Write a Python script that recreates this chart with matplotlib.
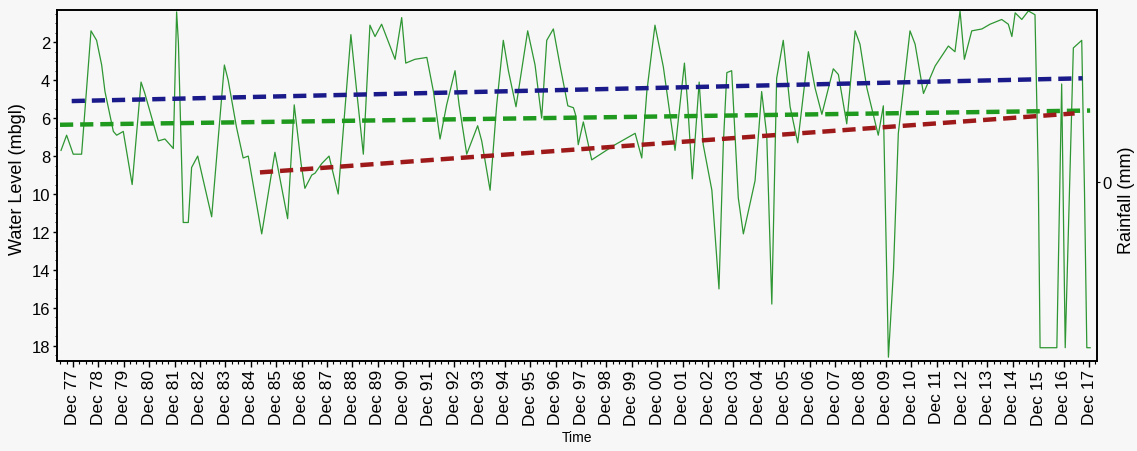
import matplotlib
matplotlib.use("Agg")
import matplotlib.pyplot as plt
from matplotlib.ticker import FixedLocator, MultipleLocator

plt.rcParams['font.family'] = ['Liberation Sans', 'DejaVu Sans']
plt.rcParams['lines.scale_dashes'] = False

# Groundwater level record (decimal year, metres below ground level)
years = [
    1977.45, 1977.67, 1977.93, 1978.26, 1978.63, 1978.85, 1979.05, 1979.18,
    1979.51, 1979.64, 1979.90, 1980.25, 1980.60, 1980.75, 1981.28, 1981.54,
    1981.87, 1982.00, 1982.07, 1982.26, 1982.46, 1982.59, 1982.83, 1983.38,
    1983.88, 1984.03, 1984.36, 1984.62, 1984.82, 1985.35, 1985.87, 1986.37,
    1986.63, 1986.90, 1987.05, 1987.32, 1987.45, 1987.71, 1988.00, 1988.36,
    1988.86, 1989.09, 1989.35, 1989.61, 1989.81, 1990.07, 1990.60, 1990.86,
    1991.02, 1991.38, 1991.85, 1992.11, 1992.37, 1992.63, 1992.96, 1993.12,
    1993.42, 1993.85, 1994.01, 1994.34, 1994.60, 1994.86, 1995.06, 1995.36,
    1995.82, 1996.11, 1996.37, 1996.57, 1996.83, 1997.09, 1997.40, 1997.62,
    1997.70, 1997.81, 1998.01, 1998.34, 1999.26, 2000.05, 2000.31, 2000.51,
    2000.83, 2001.16, 2001.62, 2001.99, 2002.12, 2002.30, 2002.57, 2002.73,
    2003.07, 2003.35, 2003.52, 2003.66, 2003.85, 2004.11, 2004.31, 2004.77,
    2005.03, 2005.23, 2005.43, 2005.62, 2005.88, 2006.15, 2006.45, 2006.87,
    2007.13, 2007.40, 2007.85, 2008.05, 2008.38, 2008.71, 2008.90, 2009.17,
    2009.62, 2009.82, 2009.92, 2010.02, 2010.22, 2010.41, 2010.87, 2011.07,
    2011.40, 2011.86, 2012.38, 2012.64, 2012.84, 2013.01, 2013.30, 2013.70,
    2014.02, 2014.48, 2014.74, 2014.88, 2015.01, 2015.27, 2015.53, 2015.79,
    2015.92, 2015.99, 2016.65, 2016.84, 2016.98, 2017.30, 2017.63, 2017.74,
    2017.83, 2017.96,
]
water_level = [
    7.7, 6.9, 7.9, 7.9, 1.4, 1.9, 3.2, 4.6,
    6.7, 6.9, 6.7, 9.5, 4.1, 4.7, 7.2, 7.1,
    7.6, 0.4, 2.0, 11.5, 11.5, 8.6, 8.0, 11.2,
    3.2, 4.0, 6.5, 8.1, 8.0, 12.1, 7.8, 11.3,
    5.3, 8.4, 9.7, 9.0, 8.9, 8.4, 8.0, 10.0,
    1.6, 4.6, 7.9, 1.1, 1.7, 1.05, 2.9, 0.7,
    3.1, 2.9, 2.8, 4.6, 7.1, 5.3, 3.5, 5.3,
    7.9, 6.4, 7.2, 9.8, 5.3, 1.9, 3.5, 5.4,
    1.4, 3.2, 6.0, 1.9, 1.3, 3.2, 5.35, 5.45,
    5.8, 7.4, 6.2, 8.2, 7.4, 6.8, 8.1, 4.6,
    1.1, 3.3, 7.7, 3.1, 5.3, 9.2, 4.1, 7.4,
    9.8, 15.0, 7.4, 3.6, 3.5, 10.2, 12.1, 9.3,
    4.6, 6.9, 15.8, 3.9, 1.9, 5.4, 7.3, 2.5,
    4.4, 5.8, 3.4, 3.7, 6.3, 1.4, 2.1, 4.4,
    6.9, 5.35, 11.9, 18.6, 14.0, 6.8, 1.4, 2.1,
    4.7, 3.25, 2.2, 2.5, 0.35, 2.9, 1.4, 1.3,
    1.05, 0.8, 1.05, 1.7, 0.45, 0.8, 0.35, 0.55,
    9.1, 18.1, 18.1, 4.2, 18.1, 2.3, 1.9, 10.0,
    18.1, 18.1,
]

# Linear trend lines (start / end)
trend_long_years = [1977.87, 2017.66]
trend_long_level = [5.1, 3.9]
trend_all_years = [1977.41, 2017.96]
trend_all_level = [6.35, 5.6]
trend_recent_years = [1985.28, 2017.35]
trend_recent_level = [8.86, 5.75]

tick_years = list(range(1977, 2018))
tick_labels = ["Dec %02d" % (y % 100) for y in tick_years]
level_ticks = [2, 4, 6, 8, 10, 12, 14, 16, 18]

bg = '#f7f7f7'
fig = plt.figure(figsize=(11.37, 4.52), dpi=100, facecolor=bg)
ax = fig.add_axes([0.0501, 0.1991, 0.9147, 0.7766], facecolor=bg)

ax.plot(years, water_level, color='#2e9632', lw=0.9, zorder=3)

dash = (9.5, 5.0)
ax.plot(trend_long_years, trend_long_level, color='#1a1a8a', lw=3.2,
        dashes=dash, zorder=4)
ax.plot(trend_all_years, trend_all_level, color='#1f9a1f', lw=3.2,
        dashes=dash, zorder=4)
ax.plot(trend_recent_years, trend_recent_level, color='#9e1a1a', lw=3.2,
        dashes=dash, zorder=5)

ax.set_xlim(1977.29, 2018.23)
ax.set_ylim(18.8, 0.3)

ax.xaxis.set_major_locator(FixedLocator([y + 0.92 for y in tick_years]))
ax.set_xticklabels(tick_labels, rotation=90, fontsize=12.5)
ax.xaxis.set_minor_locator(FixedLocator(
    [y + 0.92 + q * 0.25 for y in range(1976, 2019) for q in (1, 2, 3)]))
ax.set_yticks(level_ticks)
ax.set_yticklabels([str(v) for v in level_ticks], fontsize=12)
ax.yaxis.set_minor_locator(MultipleLocator(0.5))

ax.tick_params(axis='x', which='major', length=4, width=1, pad=2)
ax.tick_params(axis='x', which='minor', length=2, width=0.8)
ax.tick_params(axis='y', which='major', length=3, width=1, pad=2)
ax.tick_params(axis='y', which='minor', length=1.5, width=0.6)

for s in ax.spines.values():
    s.set_linewidth(1.2)
    s.set_color('black')

ax.set_xlabel("Time", fontsize=10, labelpad=4)
ax.set_ylabel("Water Level (mbgl)", fontsize=13)
ax.yaxis.set_label_coords(-0.030, 0.52)

# Secondary rainfall axis (no rainfall data plotted)
ax2 = ax.twinx()
ax2.set_ylim(-1.02, 0.98)
ax2.set_yticks([0])
ax2.set_yticklabels(["0"], fontsize=12)
ax2.tick_params(axis='y', length=2, pad=2)
ax2.set_ylabel("Rainfall (mm)", fontsize=13)
ax2.yaxis.set_label_coords(1.020, 0.46)
for s in ax2.spines.values():
    s.set_linewidth(1.2)

fig.savefig("out.png", dpi=100, facecolor=bg)
